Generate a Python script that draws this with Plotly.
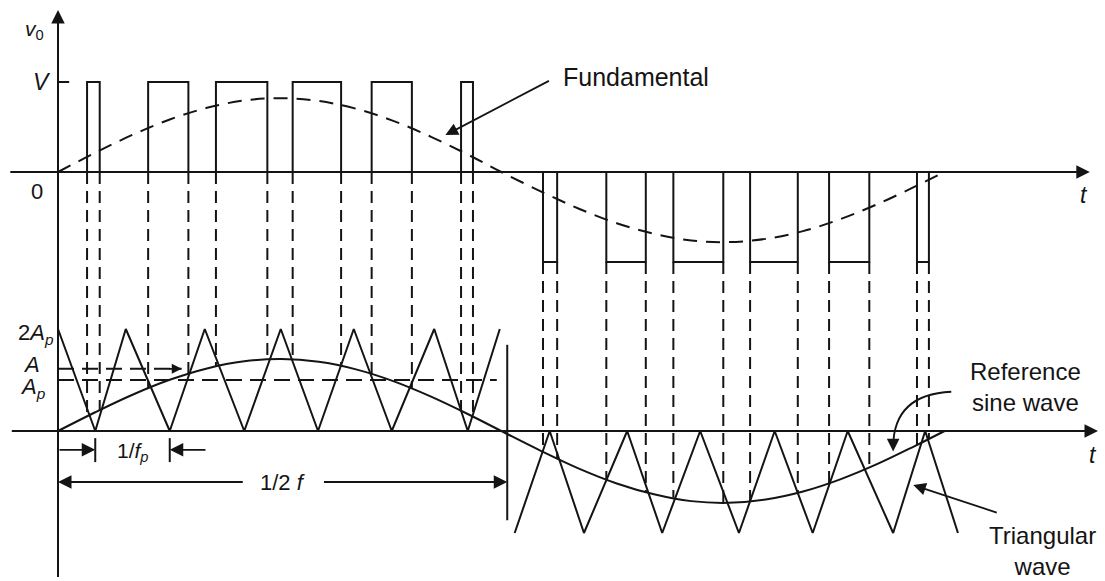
import numpy as np
import plotly.graph_objects as go

# ---------------- data (time in carrier periods, 1/fp = 1) ----------------
pos_pulse_on = [0.39, 1.21, 2.12, 3.15, 4.21, 5.41]
pos_pulse_off = [0.56, 1.75, 2.81, 3.80, 4.75, 5.57]
neg_pulse_on = [6.51, 7.36, 8.26, 9.29, 10.35, 11.53]
neg_pulse_off = [6.70, 7.89, 8.93, 9.93, 10.89, 11.69]
V_level = 1.0

wave_t = [0, 0.5, 1, 1.5, 2, 2.5, 3, 3.5, 4, 4.5, 5, 5.5, 5.95,
          6.5, 7, 7.5, 8, 8.5, 9, 9.5, 10, 10.5, 11, 11.5, 11.9]
fundamental = [0, 0.214, 0.413, 0.584, 0.713, 0.795, 0.82, 0.789, 0.703, 0.568, 0.394, 0.194, 0,
               -0.223, -0.411, -0.569, -0.687, -0.761, -0.779, -0.743, -0.657, -0.524, -0.357, -0.163, 0]
reference_sine = [0, 0.368, 0.711, 1.004, 1.227, 1.366, 1.41, 1.356, 1.208, 0.977, 0.678, 0.333, 0,
                  -0.403, -0.743, -1.029, -1.242, -1.375, -1.409, -1.344, -1.187, -0.948, -0.646, -0.295, 0]

tri1_t = [0, 0.50, 0.91, 1.50, 1.97, 2.50, 2.99, 3.49, 3.97, 4.48, 5.05, 5.50, 5.93]
tri1_v = [2, 0, 2, 0, 2, 0, 2, 0, 2, 0, 2, 0, 2]
tri2_t = [6.13, 6.60, 7.06, 7.64, 8.11, 8.62, 9.14, 9.62, 10.13, 10.60, 11.21, 11.64, 12.08]
tri2_v = [-2, 0, -2, 0, -2, 0, -2, 0, -2, 0, -2, 0, -2]

A_level = 1.22
Ap_level = 1.0
A_line_end = 1.66
Ap_line_end = 5.89
half_period = 6.03
fp_marks = [0.50, 1.50]

# ---------------- styling ----------------
INK = "#141414"
FONT = "Liberation Sans, Arial, sans-serif"
W, H = 1105, 581

X_RANGE = [-58 / 74.5, (W - 58) / 74.5]
Y_TOP_RANGE = [-(300 - 172) / 90, 172 / 90]
Y_BOT_RANGE = [-(581 - 431) / 51, (431 - 300) / 51]
TOP_DOM = [1 - 300 / H, 1]
BOT_DOM = [0, 1 - 300 / H]

def paper_y(v, rng, dom):
    return dom[0] + (v - rng[0]) / (rng[1] - rng[0]) * (dom[1] - dom[0])

fig = go.Figure()

def add_line(x, y, yaxis="y", width=2.0, dash="solid", shape="linear"):
    fig.add_trace(go.Scatter(x=x, y=y, mode="lines", yaxis=yaxis, hoverinfo="skip",
                             line=dict(color=INK, width=width, dash=dash, shape=shape),
                             showlegend=False))

# PWM output pulses (top panel)
px, py = [], []
for a, b in zip(pos_pulse_on, pos_pulse_off):
    px += [a, a, b, b, None]
    py += [0, V_level, V_level, 0, None]
for a, b in zip(neg_pulse_on, neg_pulse_off):
    px += [a, a, b, b, None]
    py += [0, -V_level, -V_level, 0, None]
add_line(px, py)

# fundamental (dashed)
add_line(wave_t, fundamental, width=2.0, dash="14px,9px", shape="spline")

# carrier triangles and reference sine (bottom panel)
add_line(tri1_t, tri1_v, yaxis="y2")
add_line(tri2_t, tri2_v, yaxis="y2")
add_line(wave_t, reference_sine, yaxis="y2", shape="spline")

# A and Ap dashed levels
add_line([0, A_line_end], [A_level, A_level], yaxis="y2", width=2.0, dash="16px,8px")
add_line([0, Ap_line_end], [Ap_level, Ap_level], yaxis="y2", width=2.0, dash="16px,8px")

shapes = []
def seg(xa, ya, xb, yb, yref="y", xref="x", width=2.0, dash="solid"):
    shapes.append(dict(type="line", xref=xref, yref=yref, x0=xa, y0=ya, x1=xb, y1=yb,
                       line=dict(color=INK, width=width, dash=dash)))

# projection dashed lines: from the pulse edge in the output panel down to the
# crossing of carrier and reference in the lower panel
for e in pos_pulse_on + pos_pulse_off:
    seg(e, paper_y(0, Y_TOP_RANGE, TOP_DOM), e,
        paper_y(float(np.interp(e, wave_t, reference_sine)), Y_BOT_RANGE, BOT_DOM),
        yref="paper", dash="12px,7px")
for e in neg_pulse_on + neg_pulse_off:
    seg(e, paper_y(-V_level, Y_TOP_RANGE, TOP_DOM), e,
        paper_y(float(np.interp(e, wave_t, reference_sine)), Y_BOT_RANGE, BOT_DOM),
        yref="paper", dash="12px,7px")

# vertical axis
seg(0, 0.007, 0, 1 - 16 / H, yref="paper")
# top time axis
seg(-0.64, 0, 13.75, 0)
# V tick
seg(0, V_level, 0.15, V_level)
# bottom time axis
seg(-0.62, 0, 13.85, 0, yref="y2")
# 1/2f marker
seg(half_period, 1.69, half_period, -1.75, yref="y2")
# 1/fp ticks
for m in fp_marks:
    seg(m, -0.14, m, -0.61, yref="y2")
# reference curved arrow
shapes.append(dict(type="path", xref="x", yref="y2",
                   path="M 11.99 0.77 Q 11.22 0.72 11.21 -0.30",
                   line=dict(color=INK, width=1.8)))

ann = []
def arrow(x, y, ax, ay, yref="y", data_tail=False, size=1.3, width=1.8):
    d = dict(x=x, y=y, xref="x", yref=yref, text="", showarrow=True, ax=ax, ay=ay,
             arrowhead=2, arrowsize=size, arrowwidth=width, arrowcolor=INK)
    if data_tail:
        d.update(axref="x", ayref=yref)
    ann.append(d)

def label(x, y, text, yref="y", size=21, xanchor="center", yanchor="middle"):
    ann.append(dict(x=x, y=y, xref="x", yref=yref, text=text, showarrow=False,
                    xanchor=xanchor, yanchor=yanchor,
                    font=dict(family=FONT, size=size, color=INK)))

# axis arrow heads
arrow(0, 1.80, 0, 22, size=1.5)
arrow(13.85, 0, -25, 0, size=1.5)
arrow(13.96, 0, -25, 0, yref="y2", size=1.5)
# 1/2 f dimension arrows
arrow(0, -1.0, 2.50, -1.0, yref="y2", data_tail=True, size=1.5)
arrow(half_period, -1.0, 3.55, -1.0, yref="y2", data_tail=True, size=1.5)
# 1/fp arrows
arrow(fp_marks[0], -0.37, 0.0, -0.37, yref="y2", data_tail=True, size=1.5)
arrow(fp_marks[1], -0.37, 2.0, -0.37, yref="y2", data_tail=True, size=1.5)
# A level arrow
arrow(A_line_end, A_level, -14, 0, yref="y2", size=1.1)
# Fundamental pointer
arrow(5.20, 0.41, 105, -55, size=1.4)
# Triangular wave pointer
arrow(11.48, -1.06, 85, 28, yref="y2", size=1.4)
# reference curved arrow head
arrow(11.21, -0.40, 0, -8, yref="y2", size=1.4)

# labels
label(-0.31, 1.58, "<i>v</i><sub>0</sub>", size=21)
label(-0.21, V_level, "<i>V</i>", size=23)
label(-0.28, -0.22, "0", size=22)
label(13.77, -0.26, "<i>t</i>", size=23)
label(13.89, -0.47, "<i>t</i>", yref="y2", size=23)
label(-0.03, 1.90, "2<i>A</i><sub><i>p</i></sub>", yref="y2", size=22, xanchor="right")
label(-0.35, 1.30, "<i>A</i>", yref="y2", size=22)
label(-0.33, 0.84, "<i>A</i><sub><i>p</i></sub>", yref="y2", size=22)
label(1.0, -0.41, "1/<i>f</i><sub><i>p</i></sub>", yref="y2", size=21)
label(3.02, -1.0, "1/2 <i>f</i>", yref="y2", size=22)
label(6.75, 1.06, "Fundamental", size=25, xanchor="left")
label(12.98, 0.86, "Reference<br>sine wave", yref="y2", size=24)
label(13.21, -2.36, "Triangular<br>wave", yref="y2", size=24)

axis_common = dict(showgrid=False, zeroline=False, showticklabels=False, ticks="",
                   showline=False, fixedrange=True)
fig.update_layout(
    width=W, height=H, autosize=False,
    margin=dict(l=0, r=0, t=0, b=0),
    paper_bgcolor="white", plot_bgcolor="white",
    xaxis=dict(range=X_RANGE, domain=[0, 1], anchor="y2", **axis_common),
    yaxis=dict(range=Y_TOP_RANGE, domain=TOP_DOM, anchor="x", **axis_common),
    yaxis2=dict(range=Y_BOT_RANGE, domain=BOT_DOM, anchor="x", **axis_common),
    shapes=shapes, annotations=ann, showlegend=False,
)

fig.write_html("out.html", config={"staticPlot": True},
               post_script="document.body.style.margin='0px';document.body.style.overflow='hidden';")
